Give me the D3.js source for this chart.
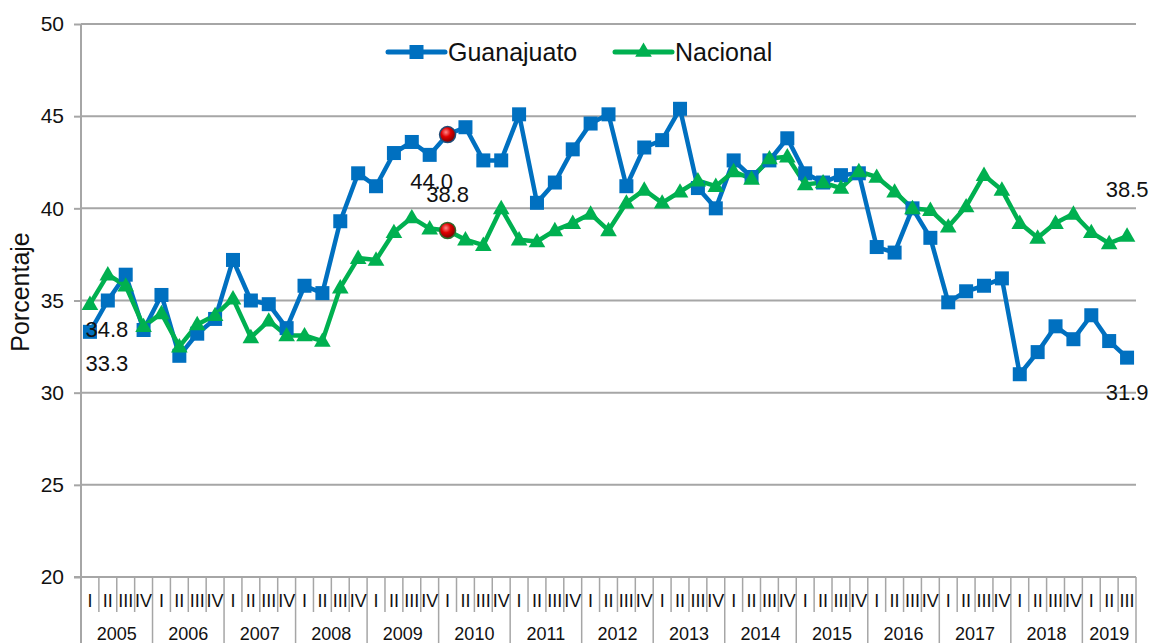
<!DOCTYPE html>
<html>
<head>
<meta charset="utf-8">
<script src="https://cdn.jsdelivr.net/npm/d3@7"></script>
<style>
  html, body { margin: 0; padding: 0; background: #fff; }
  svg { display: block; font-family: "Liberation Sans", Arial, sans-serif; }
</style>
</head>
<body>
<svg id="chart" width="1153" height="643"></svg>
<script>
// ---- data ----
const years = ["2005","2006","2007","2008","2009","2010","2011","2012","2013","2014","2015","2016","2017","2018","2019"];
const quarterNames = ["I","II","III","IV"];
const yTicks = [20, 25, 30, 35, 40, 45, 50];
const seriesNames = ["Guanajuato", "Nacional"];
const guanajuato = [
  33.3, 35.0, 36.4, 33.4, 35.3, 32.0, 33.2, 34.0,
  37.2, 35.0, 34.8, 33.5, 35.8, 35.4, 39.3, 41.9,
  41.2, 43.0, 43.6, 42.9, 44.0, 44.4, 42.6, 42.6,
  45.1, 40.3, 41.4, 43.2, 44.6, 45.1, 41.2, 43.3,
  43.7, 45.4, 41.1, 40.0, 42.6, 41.7, 42.6, 43.8,
  41.9, 41.4, 41.8, 41.9, 37.9, 37.6, 40.0, 38.4,
  34.9, 35.5, 35.8, 36.2, 31.0, 32.2, 33.6, 32.9,
  34.2, 32.8, 31.9
];
const nacional = [
  34.8, 36.4, 35.8, 33.6, 34.3, 32.5, 33.7, 34.2,
  35.1, 33.0, 33.9, 33.1, 33.1, 32.8, 35.7, 37.3,
  37.2, 38.7, 39.5, 38.9, 38.8, 38.3, 38.0, 40.0,
  38.3, 38.2, 38.8, 39.2, 39.7, 38.8, 40.3, 41.0,
  40.3, 40.9, 41.5, 41.2, 42.0, 41.6, 42.7, 42.8,
  41.3, 41.4, 41.1, 42.0, 41.7, 40.9, 40.0, 39.9,
  39.0, 40.1, 41.8, 41.0, 39.2, 38.4, 39.2, 39.7,
  38.7, 38.1, 38.5
];
// labelled points: [series index, point index]
const labelledPoints = [[0, 0], [1, 0], [0, 20], [1, 20], [0, 58], [1, 58]];
const highlightIndex = 20;

// ---- build categories ----
const categories = [];
years.forEach(y => quarterNames.forEach((q, qi) => categories.push({ year: y, q, qi })));
const nPts = guanajuato.length;
const cats = categories.slice(0, nPts).map((c, i) => ({ ...c, i }));

const svg = d3.select("#chart");
const pL = 81, pR = 1136, pT = 24, pB = 577;
const colors = ["#0070C0", "#00B050"];
const data = [guanajuato, nacional];

const x = d3.scaleBand().domain(cats.map(c => c.i)).range([pL, pR]).padding(0);
const y = d3.scaleLinear().domain([20, 50]).range([pB, pT]);
const cx = i => x(i) + x.bandwidth() / 2;

// defs: red ball gradient
const defs = svg.append("defs");
const rg = defs.append("radialGradient").attr("id", "redball").attr("cx", "40%").attr("cy", "35%").attr("r", "65%");
rg.append("stop").attr("offset", "0%").attr("stop-color", "#ff8a8a");
rg.append("stop").attr("offset", "45%").attr("stop-color", "#e00000");
rg.append("stop").attr("offset", "100%").attr("stop-color", "#7a0000");

// gridlines
const gridColor = "#a6a6a6";
svg.append("g").selectAll("line").data(yTicks.filter(t => t > 20)).join("line")
  .attr("x1", pL).attr("x2", pR)
  .attr("y1", d => y(d)).attr("y2", d => y(d))
  .attr("stroke", gridColor).attr("stroke-width", 2);

// y axis
const yAxis = d3.axisLeft(y).tickValues(yTicks).tickSize(7).tickPadding(10).tickFormat(d3.format("d"));
const gy = svg.append("g").attr("transform", `translate(${pL},0)`).call(yAxis);
gy.select(".domain").remove();
gy.selectAll(".tick line").attr("stroke", gridColor).attr("stroke-width", 2);
gy.selectAll(".tick text").attr("font-size", 21).attr("fill", "#111").attr("font-family", "Liberation Sans, Arial, sans-serif");
// y axis vertical line (extends through category area)
svg.append("line").attr("x1", pL).attr("x2", pL).attr("y1", pT).attr("y2", 643)
  .attr("stroke", gridColor).attr("stroke-width", 2);

// x axis base line
svg.append("line").attr("x1", pL - 7).attr("x2", pR).attr("y1", pB).attr("y2", pB)
  .attr("stroke", gridColor).attr("stroke-width", 2);

// quarter separators & labels
const gx = svg.append("g");
cats.forEach(c => {
  const xr = x(c.i) + x.bandwidth();
  const isYearEnd = c.qi === 3 || c.i === nPts - 1;
  gx.append("line").attr("x1", xr).attr("x2", xr).attr("y1", pB).attr("y2", isYearEnd ? 643 : 612)
    .attr("stroke", gridColor).attr("stroke-width", 1.5);
  gx.append("text").attr("x", cx(c.i)).attr("y", 607).attr("text-anchor", "middle")
    .attr("font-size", 18).attr("fill", "#111").text(c.q);
});
// year labels
years.forEach(yr => {
  const idx = cats.filter(c => c.year === yr).map(c => c.i);
  if (!idx.length) return;
  const x0 = x(idx[0]), x1 = x(idx[idx.length - 1]) + x.bandwidth();
  gx.append("text").attr("x", (x0 + x1) / 2).attr("y", 640).attr("text-anchor", "middle")
    .attr("font-size", 18).attr("fill", "#111").text(yr);
});

// y axis title
svg.append("text").attr("transform", `translate(29,292) rotate(-90)`)
  .attr("text-anchor", "middle").attr("font-size", 25).attr("fill", "#111").text("Porcentaje");

// lines
const line = d3.line().x((d, i) => cx(i)).y(d => y(d));
data.forEach((s, si) => {
  svg.append("path").datum(s).attr("d", line).attr("fill", "none")
    .attr("stroke", colors[si]).attr("stroke-width", 4.5).attr("stroke-linejoin", "round");
});
// markers
const sq = 14, tri = d3.symbol().type(d3.symbolTriangle).size(120);
svg.append("g").selectAll("rect").data(guanajuato.map((v, i) => ({ v, i })).filter(d => d.i !== highlightIndex)).join("rect")
  .attr("x", d => cx(d.i) - sq / 2).attr("y", d => y(d.v) - sq / 2).attr("width", sq).attr("height", sq)
  .attr("fill", colors[0]);
svg.append("g").selectAll("path").data(nacional.map((v, i) => ({ v, i })).filter(d => d.i !== highlightIndex)).join("path")
  .attr("d", tri).attr("transform", d => `translate(${cx(d.i)},${y(d.v) + 1})`)
  .attr("fill", colors[1]);
// highlighted balls
data.forEach((s, si) => {
  svg.append("circle").attr("cx", cx(highlightIndex)).attr("cy", y(s[highlightIndex])).attr("r", 8)
    .attr("fill", "url(#redball)").attr("stroke", si === 0 ? "#1f4e79" : "#2e6b2e").attr("stroke-width", 1.5);
});

// data labels
const labelOffsets = {
  "0-0": [17, 39], "1-0": [17, 33],
  "0-20": [-16, 54], "1-20": [0, -28],
  "0-58": [0, 42], "1-58": [0, -39]
};
labelledPoints.forEach(([si, pi]) => {
  const v = data[si][pi];
  const off = labelOffsets[si + "-" + pi];
  svg.append("text").attr("x", cx(pi) + off[0]).attr("y", y(v) + off[1])
    .attr("text-anchor", "middle").attr("font-size", 22).attr("fill", "#111").text(v.toFixed(1));
});

// legend
const legendItems = [{ x: 388, tx: 448 }, { x: 615, tx: 675 }];
legendItems.forEach((L, si) => {
  const g = svg.append("g");
  g.append("line").attr("x1", L.x).attr("x2", L.x + 57).attr("y1", 52).attr("y2", 52)
    .attr("stroke", colors[si]).attr("stroke-width", 5).attr("stroke-linecap", "round");
  if (si === 0) {
    g.append("rect").attr("x", L.x + 28.5 - sq / 2).attr("y", 52 - sq / 2).attr("width", sq).attr("height", sq).attr("fill", colors[0]);
  } else {
    g.append("path").attr("d", tri).attr("transform", `translate(${L.x + 28.5},52)`).attr("fill", colors[1]);
  }
  g.append("text").attr("x", L.tx).attr("y", 61).attr("font-size", 25).attr("fill", "#111").text(seriesNames[si]);
});
</script>
</body>
</html>
